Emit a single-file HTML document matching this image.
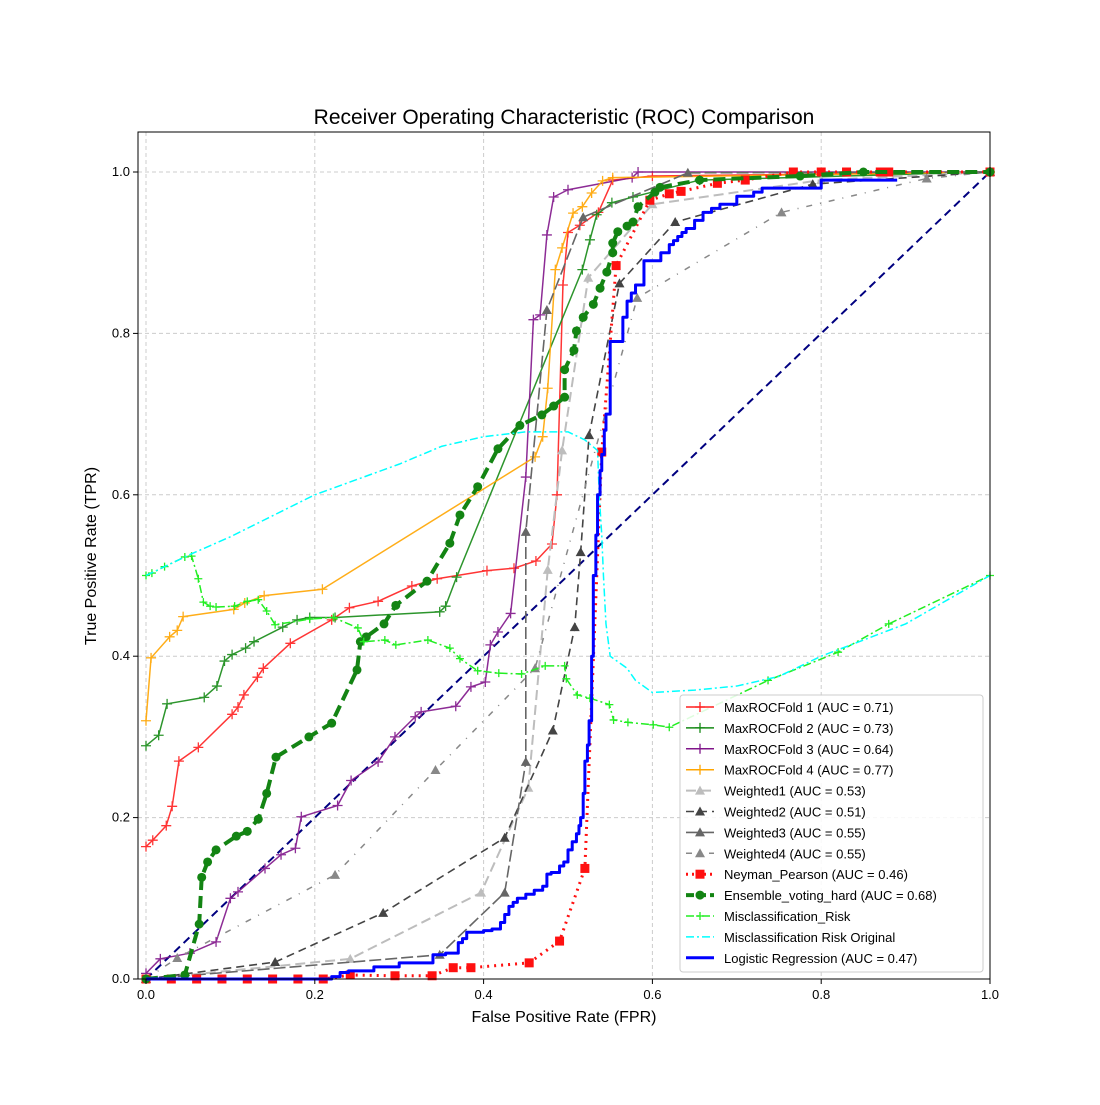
<!DOCTYPE html>
<html><head><meta charset="utf-8"><style>
body{margin:0;background:#fff;}
svg text{font-family:"Liberation Sans","DejaVu Sans",sans-serif;}
</style></head><body>
<svg id="chart" width="1100" height="1100" viewBox="0 0 1100 1100" xmlns="http://www.w3.org/2000/svg">
<rect width="1100" height="1100" fill="#fff"/>
<text x="564" y="124" font-size="21" text-anchor="middle">Receiver Operating Characteristic (ROC) Comparison</text>
<g id="grid"></g>
<g id="series"></g>
<rect x="138" y="132" width="852" height="847" fill="none" stroke="#000" stroke-width="1"/>
<g id="ticks"></g>
<text x="564" y="1022" font-size="16" text-anchor="middle">False Positive Rate (FPR)</text>
<text x="96" y="556" font-size="16" text-anchor="middle" transform="rotate(-90 96 556)">True Positive Rate (TPR)</text>
<g id="legend"></g>
</svg>
<script>
const xTicks=[0,0.2,0.4,0.6,0.8,1.0];
const yTicks=[0,0.2,0.4,0.6,0.8,1.0];
const fold1X=[0,.008,.024,.031,.039,.062,.102,.109,.116,.132,.139,.171,.220,.241,.275,.315,.345,.404,.436,.462,.481,.487,.494,.5,.514,.536,.553,.6,1];
const fold1Y=[.164,.172,.19,.214,.27,.287,.328,.337,.352,.374,.385,.416,.445,.46,.468,.487,.496,.506,.509,.518,.539,.6,.86,.925,.934,.95,.99,.995,1];
const fold2X=[0,.015,.025,.069,.084,.093,.102,.118,.128,.162,.179,.194,.224,.348,.355,.368,.517,.526,.534,.552,.577,.656,1];
const fold2Y=[.289,.302,.341,.349,.363,.394,.402,.41,.418,.436,.445,.448,.448,.455,.462,.498,.879,.916,.947,.962,.969,.99,1];
const fold3X=[0,.017,.052,.083,.1,.109,.141,.16,.177,.184,.227,.243,.275,.295,.319,.326,.367,.385,.402,.408,.417,.432,.45,.459,.467,.475,.483,.5,.576,.583,1];
const fold3Y=[.007,.025,.032,.046,.1,.108,.137,.154,.162,.201,.215,.246,.269,.3,.325,.331,.338,.362,.368,.414,.43,.453,.622,.817,.823,.922,.969,.978,.993,1,1];
const fold4X=[0,.006,.028,.037,.044,.104,.117,.14,.209,.461,.47,.476,.485,.493,.506,.517,.528,.541,.553,1];
const fold4Y=[.32,.398,.424,.432,.449,.458,.466,.475,.483,.647,.672,.732,.879,.906,.949,.957,.974,.989,.993,1];
const w1X=[0,.242,.397,.453,.476,.493,.524,.6,.8,1];
const w1Y=[0,.025,.107,.237,.507,.655,.869,.96,.99,1];
const w2X=[0,.153,.281,.425,.482,.508,.515,.525,.561,.627,.79,1];
const w2Y=[0,.021,.082,.175,.308,.436,.529,.674,.862,.938,.985,1];
const w3X=[0,.348,.425,.45,.45,.475,.518,.642,1];
const w3Y=[0,.03,.107,.269,.554,.829,.944,.999,1];
const w4X=[0,.037,.224,.343,.461,.582,.753,.925,1];
const w4Y=[0,.026,.129,.259,.385,.844,.95,.992,1];
const npX=[0,.03,.06,.09,.12,.15,.18,.21,.242,.295,.339,.364,.385,.454,.49,.52,.54,.557,.597,.62,.634,.677,.71,.767,.8,.83,.87,.88,1];
const npY=[0,0,0,0,0,0,0,0,.005,.004,.004,.014,.014,.02,.047,.137,.653,.884,.965,.973,.976,.986,.99,1,1,1,1,1,1];
const ensX=[0,.046,.063,.066,.073,.083,.107,.12,.133,.143,.154,.193,.22,.25,.254,.261,.282,.296,.333,.36,.372,.393,.417,.443,.469,.483,.496,.496,.507,.51,.518,.53,.538,.546,.553,.553,.559,.57,.577,.583,.603,.609,.656,.775,.85,1];
const ensY=[0,.005,.068,.126,.145,.16,.177,.183,.198,.23,.275,.3,.317,.383,.418,.424,.44,.463,.493,.54,.575,.61,.657,.686,.699,.71,.721,.755,.779,.803,.82,.836,.856,.876,.9,.912,.926,.933,.938,.957,.975,.981,.99,.995,1,1];
const mrX=[0,.007,.022,.046,.054,.062,.068,.076,.083,.105,.12,.133,.143,.153,.194,.222,.251,.258,.283,.296,.334,.36,.372,.393,.418,.445,.473,.496,.498,.511,.526,.549,.554,.571,.601,.62,.737,.82,.88,1];
const mrY=[.5,.503,.511,.523,.524,.496,.467,.462,.461,.462,.468,.47,.456,.439,.446,.448,.435,.418,.42,.414,.42,.41,.397,.382,.379,.378,.388,.388,.372,.352,.348,.34,.321,.318,.315,.312,.37,.405,.44,.5];
const mroX=[0,.05,.1,.2,.3,.35,.4,.45,.5,.52,.535,.537,.54,.542,.545,.55,.57,.58,.6,.65,.7,.75,.8,.9,1];
const mroY=[.5,.525,.548,.6,.638,.66,.672,.678,.678,.668,.655,.6,.55,.5,.44,.4,.385,.37,.355,.358,.363,.375,.4,.44,.5];
const lrX=[0,.22,.23,.24,.27,.3,.34,.355,.37,.375,.38,.4,.41,.42,.425,.43,.435,.44,.45,.46,.47,.475,.48,.49,.495,.5,.505,.51,.513,.515,.518,.52,.523,.525,.528,.53,.533,.535,.538,.54,.543,.545,.55,.56,.565,.57,.575,.58,.59,.6,.61,.62,.625,.63,.635,.64,.65,.66,.67,.68,.7,.72,.73,.77,.8,.89];
const lrY=[0,.003,.008,.01,.015,.02,.03,.032,.045,.05,.058,.06,.062,.07,.08,.09,.095,.1,.105,.11,.115,.13,.132,.14,.145,.16,.17,.18,.19,.2,.23,.27,.29,.32,.4,.5,.55,.6,.63,.65,.68,.7,.79,.79,.82,.84,.85,.86,.89,.89,.9,.91,.915,.92,.925,.93,.94,.95,.955,.96,.97,.975,.98,.98,.99,.99];
const diagX=[0,1], diagY=[0,1];

const X=v=>146+v*844, Y=v=>979-v*807;
const NS='http://www.w3.org/2000/svg';
function mk(t,a,p){const e=document.createElementNS(NS,t);for(const k in a)e.setAttribute(k,a[k]);p.appendChild(e);return e;}
const grid=document.getElementById('grid'),ticks=document.getElementById('ticks'),ser=document.getElementById('series'),leg=document.getElementById('legend');
xTicks.forEach(t=>{
 const g=mk('line',{x1:X(t),x2:X(t),y1:132,y2:979,stroke:'#ccc','stroke-dasharray':'4,3'},grid);
 
 
 mk('line',{x1:X(t),x2:X(t),y1:979,y2:984,stroke:'#000'},ticks);
 const l=mk('text',{x:X(t),y:999,'font-size':13,'text-anchor':'middle'},ticks);l.textContent=t.toFixed(1);
 
 
});
yTicks.forEach(t=>{
 const g=mk('line',{x1:138,x2:990,y1:Y(t),y2:Y(t),stroke:'#ccc','stroke-dasharray':'4,3'},grid);
 
 
 mk('line',{x1:133,x2:138,y1:Y(t),y2:Y(t),stroke:'#000'},ticks);
 const l=mk('text',{x:130,y:Y(t)+4,'font-size':13,'text-anchor':'end'},ticks);l.textContent=t.toFixed(1);
 
 
});
function marker(type,x,y,c,p,s){
 if(type==='+'){mk('path',{d:`M${x-s} ${y}H${x+s}M${x} ${y-s}V${y+s}`,stroke:c,'stroke-width':1.3,fill:'none'},p);}
 else if(type==='^'){mk('path',{d:`M${x} ${y-s}L${x+s} ${y+s*0.8}L${x-s} ${y+s*0.8}Z`,fill:c},p);}
 else if(type==='s'){mk('rect',{x:x-s,y:y-s,width:2*s,height:2*s,fill:c},p);}
 else if(type==='o'){mk('circle',{cx:x,cy:y,r:s,fill:c},p);}
}
const S=[
 {n:'MaxROCFold 1 (AUC = 0.71)',x:fold1X,y:fold1Y,c:'#ff2020',w:1.5,d:'',m:'+',ms:5,op:.9,id:'fold1'},
 {n:'MaxROCFold 2 (AUC = 0.73)',x:fold2X,y:fold2Y,c:'#168a16',w:1.5,d:'',m:'+',ms:5,op:.9,id:'fold2'},
 {n:'MaxROCFold 3 (AUC = 0.64)',x:fold3X,y:fold3Y,c:'#80158a',w:1.5,d:'',m:'+',ms:5,op:.9,id:'fold3'},
 {n:'MaxROCFold 4 (AUC = 0.77)',x:fold4X,y:fold4Y,c:'#ffa500',w:1.5,d:'',m:'+',ms:5,op:.9,id:'fold4'},
 {n:'Weighted1 (AUC = 0.53)',x:w1X,y:w1Y,c:'#bdbdbd',w:2,d:'10,5',m:'^',ms:5,op:1,id:'weighted1'},
 {n:'Weighted2 (AUC = 0.51)',x:w2X,y:w2Y,c:'#444',w:1.6,d:'8,5',m:'^',ms:5,op:1,id:'weighted2'},
 {n:'Weighted3 (AUC = 0.55)',x:w3X,y:w3Y,c:'#666',w:1.6,d:'12,4',m:'^',ms:5,op:1,id:'weighted3'},
 {n:'Weighted4 (AUC = 0.55)',x:w4X,y:w4Y,c:'#888',w:1.5,d:'6,8,1,8',m:'^',ms:5,op:1,id:'weighted4'},
 {n:'Neyman_Pearson (AUC = 0.46)',x:npX,y:npY,c:'#ff1010',w:3,d:'2,5',m:'s',ms:4.5,op:1,id:'neyman-pearson'},
 {n:'Ensemble_voting_hard (AUC = 0.68)',x:ensX,y:ensY,c:'#138413',w:4,d:'12,6',m:'o',ms:4.5,op:1,id:'ensemble'},
 {n:'Misclassification_Risk',x:mrX,y:mrY,c:'#22ee22',w:1.5,d:'8,3,2,3',m:'+',ms:4,op:1,id:'misclassification-risk'},
 {n:'Misclassification Risk Original',x:mroX,y:mroY,c:'#00ffff',w:1.5,d:'8,3,2,3',m:'',ms:0,op:1,id:'misclassification-risk-original'},
 {n:'Logistic Regression (AUC = 0.47)',x:lrX,y:lrY,c:'#0000ff',w:3,d:'',m:'',ms:0,op:1,id:'logistic-regression',step:true},
];
const dg=mk('line',{x1:X(diagX[0]),y1:Y(diagY[0]),x2:X(diagX[1]),y2:Y(diagY[1]),stroke:'#000080','stroke-width':2,'stroke-dasharray':'8,5'},ser);


S.forEach(s=>{
 const g=mk('g',{opacity:s.op},ser);
 
 
 let d='';
 s.x.forEach((v,i)=>{
  if(i===0)d+=`M${X(v)} ${Y(s.y[i])}`;
  else if(s.step)d+=`H${X(v)}V${Y(s.y[i])}`;
  else d+=`L${X(v)} ${Y(s.y[i])}`;
 });
 const a={d:d,fill:'none',stroke:s.c,'stroke-width':s.w,'stroke-linejoin':'round'};
 if(s.d)a['stroke-dasharray']=s.d;
 mk('path',a,g);
 if(s.m)s.x.forEach((v,i)=>marker(s.m,X(v),Y(s.y[i]),s.c,g,s.ms));
});
const lb=mk('rect',{x:680,y:695,width:303,height:277,fill:'#fff','fill-opacity':.85,stroke:'#ccc',rx:3},leg);


S.forEach((s,i)=>{
 const y=707+i*20.9;
 const g=mk('g',{},leg);
 
 
 const a={x1:686,x2:714,y1:y,y2:y,stroke:s.c,'stroke-width':s.w};
 if(s.d)a['stroke-dasharray']=s.d==='2,5'?'2,4':(s.d==='12,6'?'8,4':s.d);
 mk('line',a,g);
 if(s.m)marker(s.m,700,y,s.c,g,s.ms);
 const t=mk('text',{x:724,y:y+5,'font-size':13},g);t.textContent=s.n;
});
</script>
</body></html>
